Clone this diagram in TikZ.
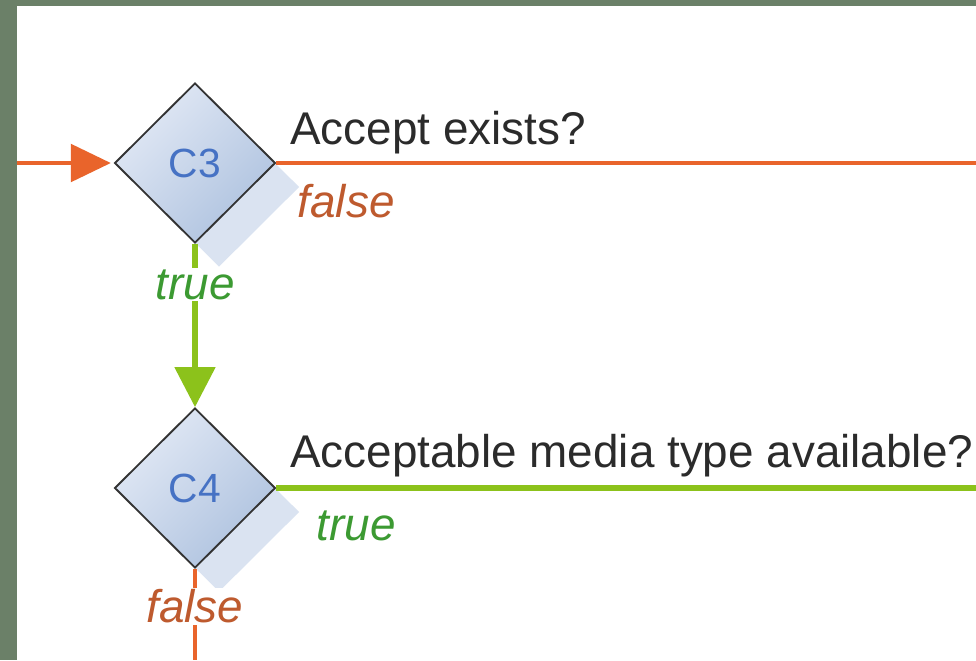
\documentclass[tikz,border=0pt]{standalone}
\usepackage{fontspec}
\setmainfont{Liberation Sans}
\usetikzlibrary{shapes.geometric,arrows.meta,shadows}
\definecolor{frameColor}{HTML}{6B8068}
\definecolor{edgeOrange}{HTML}{E9642B}
\definecolor{edgeGreen}{HTML}{8CC21B}
\definecolor{diamondLight}{HTML}{E2E9F5}
\definecolor{diamondDark}{HTML}{AEC2DF}
\definecolor{shadowBlue}{HTML}{DAE3F1}
\definecolor{diamondEdge}{HTML}{333333}
\definecolor{labelBlue}{HTML}{4672C4}
\definecolor{questionText}{HTML}{2B2B2B}
\definecolor{falseText}{HTML}{BE5A2E}
\definecolor{trueText}{HTML}{3C9A32}
\tikzset{
  decision/.style={diamond, aspect=1, inner sep=0pt,
    minimum width=4.02cm, minimum height=4cm,
    draw=diamondEdge, line width=1.3pt,
    top color=diamondLight, bottom color=diamondDark, shading angle=45,
    text=labelBlue, font=\fontsize{29}{34}\selectfont,
    general shadow={fill=shadowBlue, shadow xshift=0.6cm, shadow yshift=-0.6cm}},
  falseEdge/.style={draw=edgeOrange, line width=0.12cm},
  trueEdge/.style={draw=edgeGreen, line width=0.13cm},
  question/.style={anchor=base west, inner sep=0pt, text=questionText,
    font=\fontsize{32.6}{39}\selectfont},
  falseLabel/.style={inner sep=1pt, text=falseText,
    font=\fontsize{32.6}{39}\selectfont\itshape},
  trueLabel/.style={inner sep=1pt, text=trueText,
    font=\fontsize{32.6}{39}\selectfont\itshape}
}

\begin{document}
\begin{tikzpicture}[x=0.025cm,y=-0.025cm]
    \useasboundingbox (0,0) rectangle (976,660);
    \fill[frameColor] (0,0) rectangle (976,660);
    \fill[white] (17,6) rectangle (976,660);

    % decisions
    \node[decision] (c3) at (195,163) {C3};
    \node[decision] (c4) at (195,488) {C4};

    \coordinate (start) at (17,163);
    \coordinate (exit3) at (976,163);
    \coordinate (exit4) at (976,488);
    \coordinate (down4) at (195,660);

    % connectors
    \draw[falseEdge, -{Triangle[length=1cm,width=0.93cm]}, shorten >=2pt] (start) -- (c3.west);
    \draw[falseEdge] (c3.east) -- (exit3);
    \draw[trueEdge, -{Triangle[length=1cm,width=1cm]}] (c3.south) -- (c4.north)
        node[trueLabel, fill=white, pos=0.25] (t3) {true};
    \draw[trueEdge] (c4.east) -- (exit4);
    \draw[falseEdge] (c4.south) -- (down4)
        node[falseLabel, fill=white, pos=0.41] (f4) {false};

    % labels
    \node[question] (q3) at (290,144) {Accept exists?};
    \node[falseLabel, anchor=base west] (f3) at (296,217) {false};
    \node[question] (q4) at (290,467) {Acceptable media type available?};
    \node[trueLabel, anchor=base west] (t4) at (315,540) {true};

\end{tikzpicture}
\end{document}
